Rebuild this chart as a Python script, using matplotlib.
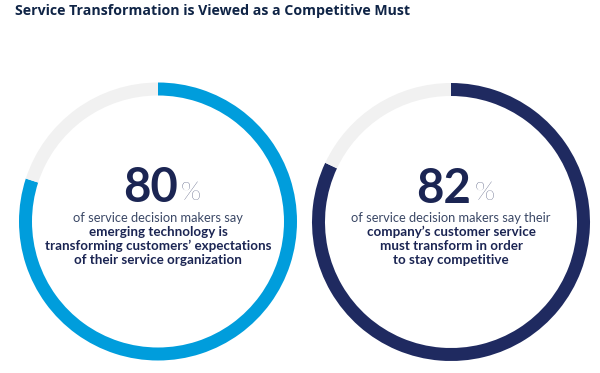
import matplotlib
matplotlib.use("Agg")
import matplotlib.pyplot as plt

title = "Service Transformation is Viewed as a Competitive Must"
percents = [80, 82]
lead_lines = ["of service decision makers say",
              "of service decision makers say their"]
bold_lines = [
    ["emerging technology is",
     "transforming customers\u2019 expectations",
     "of their service organization"],
    ["company\u2019s customer service",
     "must transform in order",
     "to stay competitive"],
]
ring_colors = ["#009ddc", "#1f2a60"]
rest_color = "#f1f1f1"
navy = "#1b2553"

W, H = 600, 373
fig = plt.figure(figsize=(W / 100, H / 100), dpi=100)
ax = fig.add_axes([0, 0, 1, 1])

centers = [(158, H - 221.5), (451, H - 222)]
radius = 139
band = 13

for i, p in enumerate(percents):
    cx, cy = centers[i]
    ax.pie([p, 100 - p], colors=[ring_colors[i], rest_color], startangle=90,
           counterclock=False, radius=radius, center=(cx, cy),
           wedgeprops=dict(width=band, linewidth=0))
    # big number + thin percent sign
    ax.text(cx + 20, cy + 33, str(p), ha="right", va="center",
            fontsize=34, fontweight="bold", color=navy, family="Lato")
    ax.text(cx + 23, cy + 29, "%", ha="left", va="center",
            fontsize=19, fontweight="light", color=navy, family="Lato")
    ax.text(cx, cy + 4, lead_lines[i], ha="center", va="center",
            fontsize=9.3, fontweight="normal", color="#3b4866", family="Lato")
    for j, line in enumerate(bold_lines[i]):
        ax.text(cx, cy - 10 - 14 * j, line, ha="center", va="center",
                fontsize=9.6, fontweight="bold", color=navy, family="Lato")

ax.text(15, H - 11, title, ha="left", va="center", fontsize=10.2,
        fontweight="bold", color="#0f2446", family="Open Sans")

ax.set_xlim(0, W)
ax.set_ylim(0, H)
ax.set_aspect("auto")
ax.axis("off")

fig.savefig("out.png", dpi=100)
